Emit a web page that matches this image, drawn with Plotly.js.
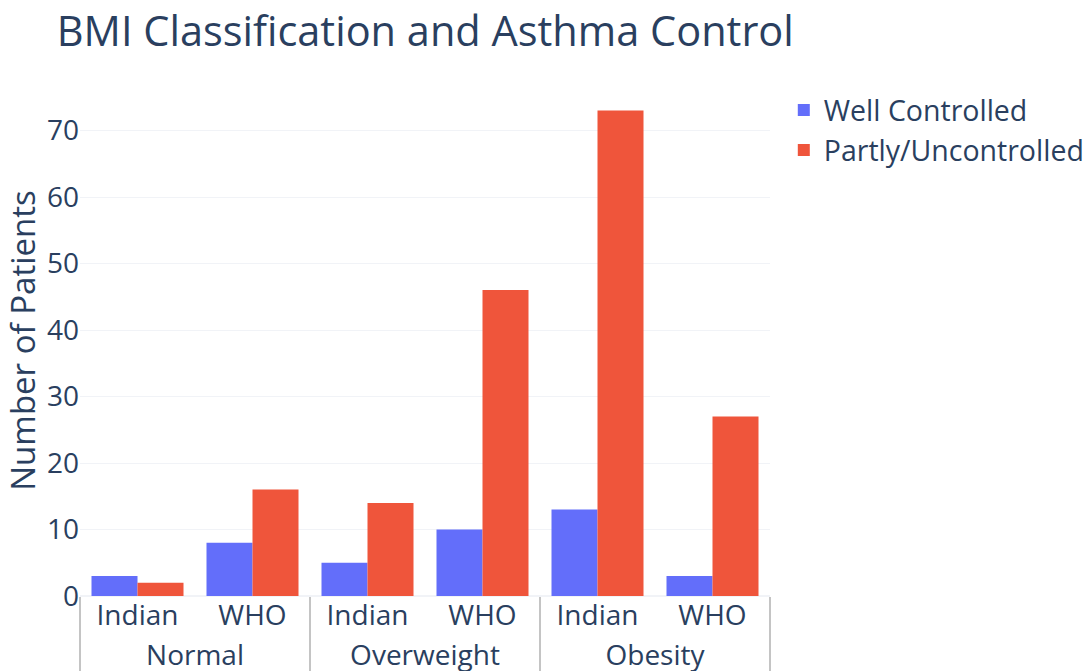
<!DOCTYPE html>
<html>
<head>
<meta charset="utf-8">
<script src="https://cdn.plot.ly/plotly-3.0.1.min.js"></script>
<style>html,body{margin:0;padding:0;background:#fff;}#chart{width:1092px;height:671px;}</style>
</head>
<body>
<div id="chart"></div>
<script>
const groups = ["Normal", "Normal", "Overweight", "Overweight", "Obesity", "Obesity"];
const standards = ["Indian", "WHO", "Indian", "WHO", "Indian", "WHO"];
const wellControlled = [3, 8, 5, 10, 13, 3];
const partlyUncontrolled = [2, 16, 14, 46, 73, 27];
const seriesNames = ["Well Controlled", "Partly/Uncontrolled"];

const font = "Open Sans, verdana, arial, sans-serif";
const textColor = "#2a3f5f";

const traces = [
  {type: "bar", name: seriesNames[0], x: [groups, standards], y: wellControlled, marker: {color: "#636efa"}},
  {type: "bar", name: seriesNames[1], x: [groups, standards], y: partlyUncontrolled, marker: {color: "#EF553B"}}
];

const layout = {
  width: 1092, height: 671,
  paper_bgcolor: "#fff", plot_bgcolor: "#fff",
  font: {family: font, color: textColor, size: 28},
  margin: {l: 80, r: 322, t: 85, b: 75, pad: 0, autoexpand: false},
  barmode: "group",
  title: {text: "BMI Classification and Asthma Control", x: 0.052, xanchor: "left", xref: "container",
          y: 0.953, yref: "container", yanchor: "middle", font: {size: 41.5, color: textColor}},
  xaxis: {type: "multicategory", automargin: false, showgrid: false, showline: false,
          tickfont: {size: 28}, dividercolor: "#c4c4c4", dividerwidth: 2, ticks: ""},
  yaxis: {automargin: false, gridcolor: "#f1f3f7", zerolinecolor: "#f1f3f7", zerolinewidth: 2,
          tickfont: {size: 28}, title: {text: "Number of Patients", font: {size: 33}, standoff: 8}},
  legend: {x: 1.02, y: 1, xanchor: "left", yanchor: "top", font: {size: 28.5}},
  showlegend: true
};

Plotly.newPlot("chart", traces, layout, {displayModeBar: false, staticPlot: true});
</script>
</body>
</html>
